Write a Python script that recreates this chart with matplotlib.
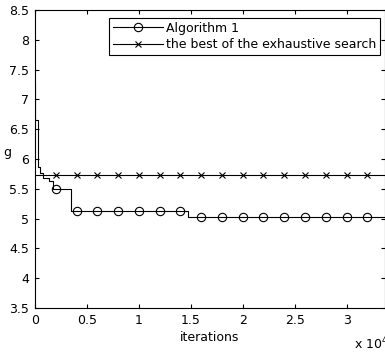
import numpy as np
import matplotlib.pyplot as plt
from matplotlib.lines import Line2D
from matplotlib.ticker import FuncFormatter

plt.rcParams['font.family'] = ['DejaVu Sans']

# Algorithm 1: step change points (iterations, g)
alg_x = [0, 30, 250, 450, 750, 1350, 1700, 3500, 14700, 33700]
alg_y = [7.24, 6.65, 5.86, 5.76, 5.68, 5.63, 5.50, 5.13, 5.03, 5.03]
best_g = 5.73
mark_x = np.arange(2000, 33000, 2000)
x_max = 33700

# value of the step curve at each marker position
mark_y = [alg_y[np.searchsorted(alg_x, m, side='right') - 1] for m in mark_x]

fs = 9
fig = plt.figure(figsize=(3.85, 3.54), dpi=100)
ax = fig.add_axes([35/385, 1 - 308/354, 350/385, 298/354])

ax.plot(alg_x, alg_y, color='k', lw=0.8, drawstyle='steps-post')
ax.plot(mark_x, mark_y, 'o', color='k', mfc='none', ms=6, mew=0.8, ls='none')
ax.plot([0, x_max], [best_g, best_g], color='k', lw=0.8)
ax.plot(mark_x, [best_g]*len(mark_x), 'x', color='k', ms=4.5, mew=0.8, ls='none')

ax.set_xlim(0, x_max)
ax.set_ylim(3.5, 8.5)
ax.set_xticks([0, 5000, 10000, 15000, 20000, 25000, 30000])
ax.xaxis.set_major_formatter(FuncFormatter(lambda v, p: '%g' % (v/1e4)))
ax.set_yticks(np.arange(3.5, 8.51, 0.5))
ax.yaxis.set_major_formatter(FuncFormatter(lambda v, p: '%g' % v))
ax.tick_params(direction='in', top=True, right=True, labelsize=fs, length=3, width=0.8, pad=4)
for s in ax.spines.values():
    s.set_linewidth(0.8)

ax.set_xlabel('iterations', fontsize=fs, labelpad=3)
fig.text(3/385, 1 - 153/354, 'g', fontsize=fs, va='center', ha='left')
fig.text(354/385, 1 - 344/354, 'x 10$^4$', fontsize=fs, va='center', ha='left')

handles = [Line2D([], [], color='k', lw=0.8, marker='o', mfc='none', ms=6, mew=0.8),
           Line2D([], [], color='k', lw=0.8, marker='x', ms=4.5, mew=0.8)]
leg = ax.legend(handles, ['Algorithm 1', 'the best of the exhaustive search'],
                loc='upper right', bbox_to_anchor=(345/350, 290/298), fontsize=fs,
                handlelength=4.0, handletextpad=0.25, borderpad=0.3,
                labelspacing=0.25, fancybox=False, framealpha=1, edgecolor='k',
                borderaxespad=0)
leg.get_frame().set_linewidth(0.8)

fig.savefig('out.png', dpi=100)
